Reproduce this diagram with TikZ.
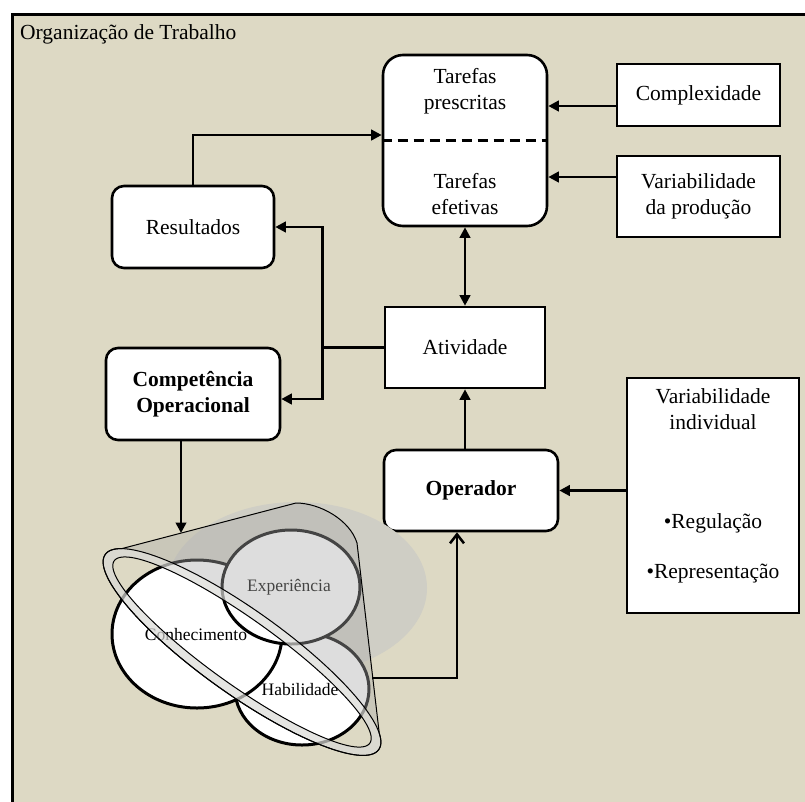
\documentclass[tikz,border=0pt]{standalone}
\usepackage{fontspec}
\setmainfont{Liberation Serif}
\usetikzlibrary{arrows.meta,calc}
\definecolor{paper}{RGB}{221,217,196}
\definecolor{haze}{RGB}{207,206,197}
\definecolor{veil}{RGB}{172,172,170}
\definecolor{band}{RGB}{218,218,215}
\begin{document}
\begin{tikzpicture}[x=1pt,y=-1pt,
  >={Triangle[length=10.5pt,width=10.5pt]},
  every node/.style={font=\fontsize{21.5}{26}\selectfont, inner sep=0pt, align=center},
  box/.style={draw, line width=2.6pt, fill=white},
  rbox/.style={box, rounded corners=12pt},
  conn/.style={line width=2.5pt},
  vtext/.style={font=\fontsize{17.5}{21}\selectfont},
  thinline/.style={line width=1pt},
  declare function={
    ex(\p,\q,\s)=242+\p*cos(\s)*0.814+\q*sin(\s)*0.581;
    ey(\p,\q,\s)=652+\p*cos(\s)*0.581-\q*sin(\s)*0.814;
  }]

% page and frame
\useasboundingbox (0,0) rectangle (805,801);
\begin{scope}
  \clip (0,0) rectangle (805,801);
  \fill[white] (0,0) rectangle (805,801);
  \draw[line width=3pt, fill=paper] (12,14.5) rectangle (900,900);
\end{scope}

\node[anchor=base west] (org) at (20,39) {Organização de Trabalho};

% task block
\node[box, rounded corners=20pt, minimum width=164pt, minimum height=171pt] (tar) at (465,140.5) {};
\draw[conn, dash pattern=on 10pt off 6pt] (tar.west) -- (tar.east);
\node (tpre) at (465,91) {Tarefas\\prescritas};
\node (tefe) at (465,194) {Tarefas\\efetivas};

\node[box, minimum width=163pt, minimum height=62pt] (cplx) at (698.5,95) {Complexidade};
\node[box, minimum width=163pt, minimum height=81pt] (vprod) at (698.5,196.5) {Variabilidade\\da produção};

\node[rbox, minimum width=162pt, minimum height=82pt] (res) at (193,227) {Resultados};
\node[box, minimum width=160pt, minimum height=81pt] (ativ) at (465,347.5) {Atividade};
\node[rbox, minimum width=174pt, minimum height=92pt, font=\fontsize{21.5}{26}\selectfont\bfseries] (comp) at (193,394) {Competência\\Operacional};
\node[rbox, minimum width=174pt, minimum height=81pt, font=\fontsize{21.5}{26}\selectfont\bfseries] (oper) at (471,490.5) {Operador};

\node[box, minimum width=172pt, minimum height=235pt] (vind) at (713,495.5) {};
\node (vindt) at (713,409) {Variabilidade\\individual};
\node (vreg) at (713,523) {•Regulação};
\node (vrep) at (713,574) {•Representação};

% connectors
\draw[conn,->] ([yshift=-11pt]cplx.west) -- ([yshift=-11pt]cplx.west -| tar.east);
\draw[conn,->] ([yshift=19.5pt]vprod.west) -- ([yshift=19.5pt]vprod.west -| tar.east);
\draw[conn,->] (res.north) |- ([yshift=5.5pt]tar.west);
\draw[conn,<->] (tar.south) -- (ativ.north);
\draw[conn,->] (ativ.west) -- ++(-61,0) |- (res.east);
\draw[conn,->] (ativ.west) -- ++(-61,0) |- ([yshift=-5pt]comp.east);
\draw[conn,->] (ativ.south |- oper.north) -- (ativ.south);
\draw[conn,->] (vind.west |- oper.east) -- (oper.east);

\coordinate (conetop) at (181,533);
\coordinate (conemouth) at (372,678);
\draw[conn,->] (comp.south -| conetop) -- (conetop);

% knowledge, skill and experience
\fill[haze] (297,588) ellipse [x radius=130, y radius=86];
\draw[line width=3pt, fill=white] (302,689) ellipse [x radius=67, y radius=56];
\draw[line width=3pt, fill=white] (197,634) ellipse [x radius=85, y radius=74];
\draw[line width=3pt, fill=white] (291,587) ellipse [x radius=69, y radius=57];
\node[vtext] (hab) at (300,690) {Habilidade};
\node[vtext] (con) at (196,635) {Conhecimento};
\node[vtext] (exp) at (289,587) {Experiência};

% translucent funnel over the three sets
\fill[veil, opacity=0.4, even odd rule]
  ({ex(168,42,19)},{ey(168,42,19)}) -- (357,543) .. controls (350,520) and (320,503) .. (296,503)
  -- plot[domain=160:379, samples=80, variable=\s] ({ex(168,42,\s)},{ey(168,42,\s)}) -- cycle
  plot[domain=0:360, samples=120, variable=\s] ({ex(168,42,\s)},{ey(168,42,\s)}) -- cycle;
\fill[band, opacity=0.7, even odd rule]
  plot[domain=0:360, samples=120, variable=\s] ({ex(168,42,\s)},{ey(168,42,\s)}) -- cycle
  plot[domain=0:360, samples=120, variable=\s] ({ex(157,33,\s)},{ey(157,33,\s)}) -- cycle;
\draw[thinline, line join=round]
  ({ex(168,42,19)},{ey(168,42,19)}) -- (357,543) .. controls (350,520) and (320,503) .. (296,503)
  -- plot[domain=160:379, samples=80, variable=\s] ({ex(168,42,\s)},{ey(168,42,\s)}) -- cycle;
\draw[thinline] plot[domain=0:360, samples=120, variable=\s] ({ex(168,42,\s)},{ey(168,42,\s)}) -- cycle;
\draw[thinline] plot[domain=0:360, samples=120, variable=\s] ({ex(157,33,\s)},{ey(157,33,\s)}) -- cycle;

\draw[conn, -{Straight Barb[length=9pt,width=14pt]}] (conemouth) -| ([xshift=-14pt]oper.south);

\end{tikzpicture}
\end{document}
